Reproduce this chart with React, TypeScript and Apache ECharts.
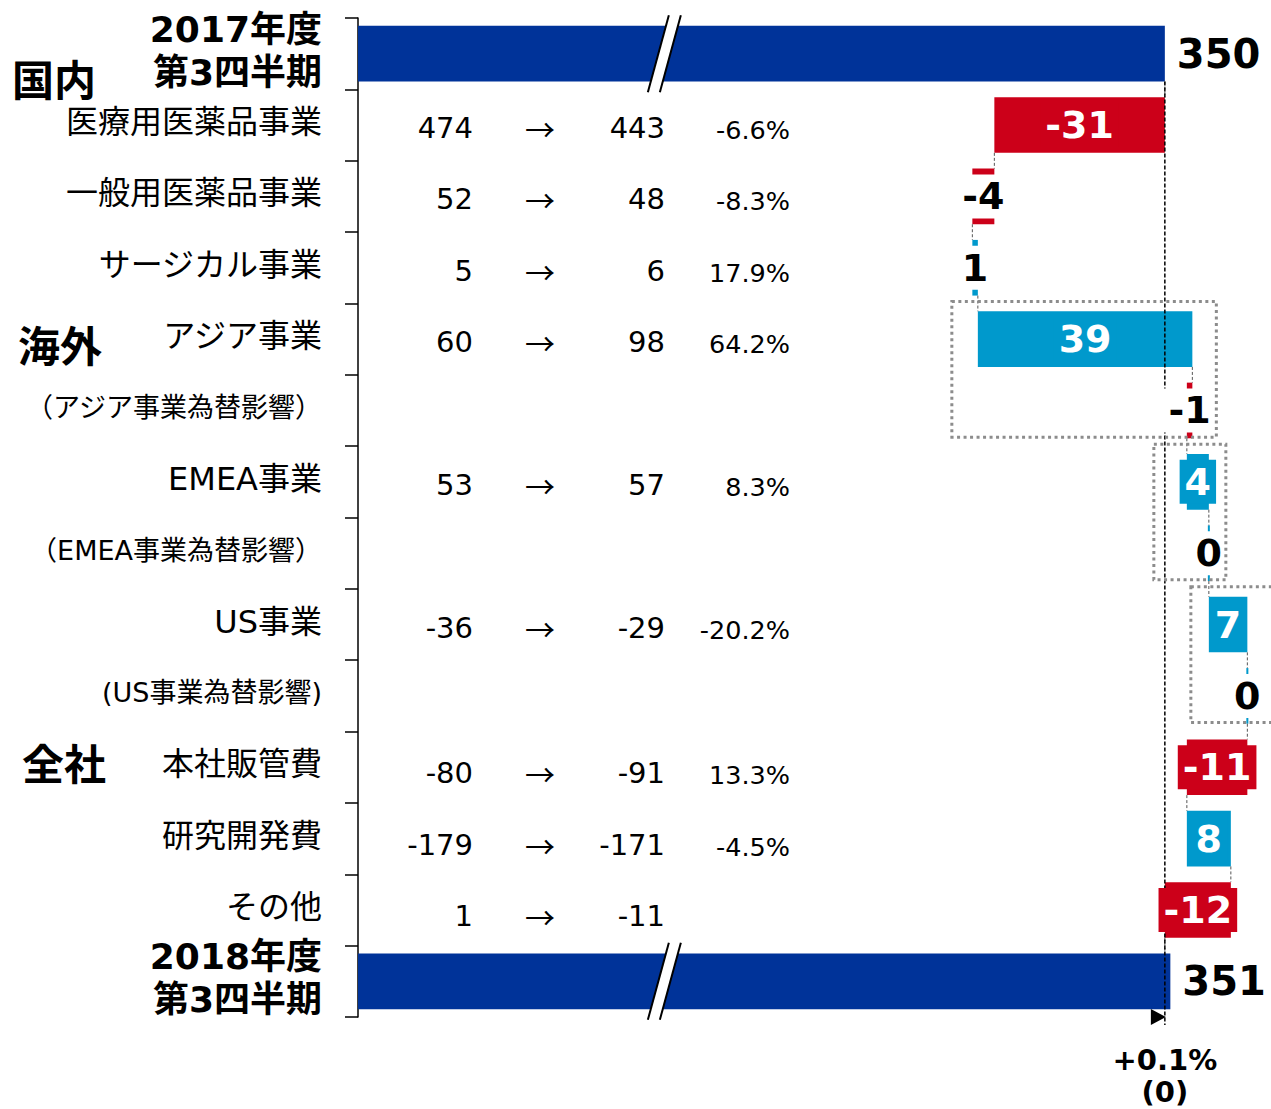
import React, { useEffect, useRef } from 'react';
import * as echarts from 'echarts';

const FONT = "'DejaVu Sans', 'Noto Sans CJK JP', sans-serif";
const CJK = "'Noto Sans CJK JP', sans-serif";

// ---------- data ----------
const categories = [
  '2017年度\n第3四半期',
  '医療用医薬品事業',
  '一般用医薬品事業',
  'サージカル事業',
  'アジア事業',
  '（アジア事業為替影響）',
  'EMEA事業',
  '（EMEA事業為替影響）',
  'US事業',
  '(US事業為替影響)',
  '本社販管費',
  '研究開発費',
  'その他',
  '2018年度\n第3四半期',
];
const categoryKind = ['total', 'n', 'n', 'n', 'n', 'fx', 'n', 'fx', 'n', 'fx', 'n', 'n', 'n', 'total'];
const startTotal = 350;
const endTotal = 351;
const deltas = [-31, -4, 1, 39, -1, 4, 0, 7, 0, -11, 8, -12];
const deltaLabelOnBar = [true, false, false, true, false, true, false, true, false, true, true, true];
const prevYear = ['474', '52', '5', '60', '', '53', '', '-36', '', '-80', '-179', '1'];
const curYear = ['443', '48', '6', '98', '', '57', '', '-29', '', '-91', '-171', '-11'];
const pctChange = ['-6.6%', '-8.3%', '17.9%', '64.2%', '', '8.3%', '', '-20.2%', '', '13.3%', '-4.5%', ''];
const groupNames = ['国内', '海外', '全社'];
const groupRows = [0, 4, 10];
const fxBoxRows = [[4, 5], [6, 7], [8, 9]];
const totalChangePct = '+0.1%';
const totalChangeAbs = '(0)';

// ---------- styling / layout ----------
const NAVY = '#003399';
const RED = '#CC0019';
const BLUE = '#0099CC';
const AX_MIN = 203.3;
const AX_MAX = 369.3;
const BAR_RATIO = 0.78;
const BREAK_VALUE = 259;
const groupX = [12, 18, 22];
const groupDy = [24, 4, -6];
const boxPads = [[26, 24], [33, 17], [18, 30]];
const COL_PREV = 473;
const COL_ARROW = 540;
const COL_CUR = 665;
const COL_PCT = 790;
const TABLE_DY = 3;

type Item = {
  row: number; start: number; end: number; prevEnd: number;
  color: string; label: string; total: boolean; onBar: boolean;
};

const items: Item[] = [];
let run = startTotal;
items.push({ row: 0, start: AX_MIN, end: startTotal, prevEnd: startTotal, color: NAVY, label: String(startTotal), total: true, onBar: false });
deltas.forEach((d, k) => {
  const s = run;
  run = run + d;
  items.push({ row: k + 1, start: s, end: run, prevEnd: s, color: d < 0 ? RED : BLUE, label: String(d), total: false, onBar: deltaLabelOnBar[k] });
});
items.push({ row: 13, start: AX_MIN, end: endTotal, prevEnd: run, color: NAVY, label: String(endTotal), total: true, onBar: false });

const option: any = {
  animation: false,
  grid: { left: 358, top: 18, right: 0, bottom: 92 },
  xAxis: { type: 'value', min: AX_MIN, max: AX_MAX, show: false },
  yAxis: {
    type: 'category',
    inverse: true,
    data: categories,
    axisLine: { show: true, lineStyle: { color: '#000', width: 1.5 } },
    axisTick: { show: true, alignWithLabel: false, inside: false, length: 13, lineStyle: { color: '#000', width: 1.5 } },
    splitLine: { show: false },
    axisLabel: {
      interval: 0,
      margin: 36,
      color: '#000',
      padding: [0, 0, 6, 0],
      formatter: (v: string, i: number) => {
        const k = categoryKind[i];
        if (k === 'total') return v.split('\n').map((s) => `{t|${s}}`).join('\n');
        if (k === 'fx') return `{s|${v}}`;
        return `{n|${v}}`;
      },
      rich: {
        t: { fontSize: 36, fontWeight: 'bold', fontFamily: FONT, lineHeight: 43, color: '#000' },
        n: { fontSize: 32, fontFamily: FONT, color: '#000' },
        s: { fontSize: 27, fontFamily: FONT, color: '#000' },
      },
    },
  },
  series: [
    {
      type: 'custom',
      name: 'bars',
      z: 2,
      clip: false,
      encode: { x: [1, 2], y: 0 },
      data: items.map((it) => [it.row, it.start, it.end]),
      renderItem: (params: any, api: any) => {
        const it = items[params.dataIndex];
        const a = api.coord([it.start, it.row]);
        const b = api.coord([it.end, it.row]);
        const band = api.size([0, 1])[1];
        const h = band * BAR_RATIO;
        let x = Math.min(a[0], b[0]);
        let w = Math.abs(b[0] - a[0]);
        if (w < 2) { x -= 1; w = 2; }
        const children: any[] = [
          { type: 'rect', shape: { x, y: a[1] - h / 2, width: w, height: h }, style: { fill: it.color } },
        ];
        if (params.dataIndex > 0) {
          const px = api.coord([it.prevEnd, it.row])[0];
          children.push({
            type: 'line',
            shape: { x1: px, y1: a[1] - band + h / 2, x2: px, y2: a[1] - h / 2 },
            style: { stroke: '#555', lineWidth: 1, lineDash: [3, 2] },
          });
        }
        return { type: 'group', children };
      },
    },
    {
      type: 'custom',
      name: 'reference',
      z: 3,
      clip: false,
      encode: { x: 0, y: 1 },
      data: [[startTotal, 0]],
      renderItem: (params: any, api: any) => {
        const top = api.coord([startTotal, 0]);
        const bot = api.coord([startTotal, categories.length - 1]);
        const band = api.size([0, 1])[1];
        const x = top[0];
        const y1 = top[1] + (band * BAR_RATIO) / 2;
        const y2 = bot[1] + band / 2;
        return {
          type: 'group',
          children: [
            { type: 'line', shape: { x1: x, y1, x2: x, y2: y2 + 8 }, style: { stroke: '#000', lineWidth: 1.5, lineDash: [4, 2] } },
            { type: 'polygon', shape: { points: [[x - 14, y2 - 8], [x + 1, y2], [x - 14, y2 + 8]] }, style: { fill: '#000' } },
            { type: 'text', style: { text: totalChangePct, x, y: y2 + 43, align: 'center', verticalAlign: 'middle', fontSize: 29, fontWeight: 'bold', fontFamily: FONT, fill: '#000' } },
            { type: 'text', style: { text: totalChangeAbs, x, y: y2 + 75, align: 'center', verticalAlign: 'middle', fontSize: 29, fontWeight: 'bold', fontFamily: FONT, fill: '#000' } },
          ],
        };
      },
    },
    {
      type: 'custom',
      name: 'labels',
      z: 4,
      clip: false,
      encode: { x: [1, 2], y: 0 },
      data: items.map((it) => [it.row, it.start, it.end]),
      renderItem: (params: any, api: any) => {
        const it = items[params.dataIndex];
        const a = api.coord([it.start, it.row]);
        const b = api.coord([it.end, it.row]);
        if (it.total) {
          return {
            type: 'text',
            style: { text: it.label, x: b[0] + 12, y: b[1], align: 'left', verticalAlign: 'middle', fontSize: 40, fontWeight: 'bold', fontFamily: FONT, fill: '#000' },
          };
        }
        const cx = (a[0] + b[0]) / 2;
        return {
          type: 'text',
          style: {
            text: it.label, x: cx, y: a[1], align: 'center', verticalAlign: 'middle',
            fontSize: 38, fontWeight: 'bold', fontFamily: FONT,
            fill: it.onBar ? '#fff' : '#000',
            backgroundColor: it.onBar ? it.color : '#fff',
            padding: [0, 5], lineHeight: 44,
          },
        };
      },
    },
    {
      type: 'custom',
      name: 'table',
      z: 4,
      clip: false,
      encode: { x: 0, y: 1 },
      data: prevYear.map((_, k) => [AX_MIN, k + 1]),
      renderItem: (params: any, api: any) => {
        const k = params.dataIndex;
        const y = api.coord([AX_MIN, k + 1])[1] + TABLE_DY + (k >= 9 ? 3 : 0);
        if (!prevYear[k]) return { type: 'group', children: [] };
        const base = { verticalAlign: 'middle', fill: '#000', fontFamily: FONT };
        return {
          type: 'group',
          children: [
            { type: 'text', style: { ...base, text: prevYear[k], x: COL_PREV, y, align: 'right', fontSize: 29 } },
            { type: 'text', style: { ...base, text: '→', x: COL_ARROW, y, align: 'center', fontSize: 30, fontFamily: CJK } },
            { type: 'text', style: { ...base, text: curYear[k], x: COL_CUR, y, align: 'right', fontSize: 29 } },
            { type: 'text', style: { ...base, text: pctChange[k], x: COL_PCT, y: y + 2, align: 'right', fontSize: 25.5 } },
          ],
        };
      },
    },
    {
      type: 'custom',
      name: 'groups',
      z: 4,
      clip: false,
      encode: { x: 0, y: 1 },
      data: groupRows.map((r) => [AX_MIN, r]),
      renderItem: (params: any, api: any) => {
        const i = params.dataIndex;
        const y = api.coord([AX_MIN, groupRows[i]])[1] + groupDy[i];
        return {
          type: 'text',
          style: { text: groupNames[i], x: groupX[i], y, align: 'left', verticalAlign: 'middle', fontSize: 42, fontWeight: 'bold', fontFamily: CJK, fill: '#000' },
        };
      },
    },
    {
      type: 'custom',
      name: 'fxBoxes',
      z: 5,
      clip: false,
      encode: { x: 0, y: 1 },
      data: fxBoxRows.map((r) => [AX_MIN, r[0]]),
      renderItem: (params: any, api: any) => {
        const i = params.dataIndex;
        const [r1, r2] = fxBoxRows[i];
        const vals: number[] = [];
        items.filter((it) => it.row >= r1 && it.row <= r2).forEach((it) => { vals.push(it.start, it.end); });
        const band = api.size([0, 1])[1];
        const xl = api.coord([Math.min(...vals), r1])[0] - boxPads[i][0];
        const xr = api.coord([Math.max(...vals), r1])[0] + boxPads[i][1];
        const yt = api.coord([AX_MIN, r1])[1] - band / 2 - 2;
        const yb = api.coord([AX_MIN, r2])[1] + band / 2 - 9;
        return {
          type: 'rect',
          shape: { x: xl, y: yt, width: xr - xl, height: yb - yt },
          style: { fill: 'none', stroke: '#8c8c8c', lineWidth: 3, lineDash: [3, 3.5] },
        };
      },
    },
    {
      type: 'custom',
      name: 'breaks',
      z: 5,
      clip: false,
      encode: { x: 0, y: 1 },
      data: [[BREAK_VALUE, 0], [BREAK_VALUE, categories.length - 1]],
      renderItem: (params: any, api: any) => {
        const c = api.coord([api.value(0), api.value(1)]);
        const half = 38.5;
        const sl = 10.5;
        const g = 6;
        const t = c[1] - half;
        const bt = c[1] + half;
        return {
          type: 'group',
          children: [
            { type: 'polygon', shape: { points: [[c[0] - g + sl, t], [c[0] + g + sl, t], [c[0] + g - sl, bt], [c[0] - g - sl, bt]] }, style: { fill: '#fff' } },
            { type: 'line', shape: { x1: c[0] - g + sl, y1: t, x2: c[0] - g - sl, y2: bt }, style: { stroke: '#000', lineWidth: 2 } },
            { type: 'line', shape: { x1: c[0] + g + sl, y1: t, x2: c[0] + g - sl, y2: bt }, style: { stroke: '#000', lineWidth: 2 } },
          ],
        };
      },
    },
  ],
};

export default function App() {
  const ref = useRef<HTMLDivElement>(null);
  useEffect(() => {
    document.body.style.margin = '0';
    const chart = echarts.init(ref.current as HTMLDivElement, null, { renderer: 'svg' });
    chart.setOption(option);
    return () => chart.dispose();
  }, []);
  return <div ref={ref} style={{ width: 1271, height: 1109 }} />;
}
